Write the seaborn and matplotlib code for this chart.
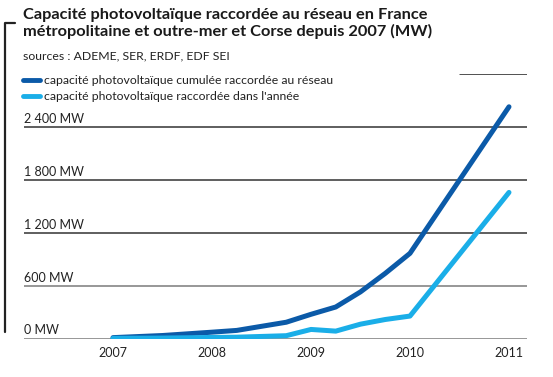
import pandas as pd
import matplotlib.pyplot as plt
import seaborn as sns
from matplotlib.lines import Line2D

# values (MW), quarterly-ish points
periods = [2007.0, 2007.5, 2008.0, 2008.25, 2008.75, 2009.0, 2009.25, 2009.5, 2009.75, 2010.0, 2011.0]
cumulee = [10, 34, 72, 92, 185, 275, 358, 530, 740, 968, 2633]
annee = [2, 5, 12, 15, 32, 103, 84, 163, 216, 255, 1660]

labels = ["capacité photovoltaïque cumulée raccordée au réseau",
          "capacité photovoltaïque raccordée dans l'année"]
years = [2007, 2008, 2009, 2010, 2011]
yticks = [0, 600, 1200, 1800, 2400]
ytick_labels = ["0 MW", "600 MW", "1 200 MW", "1 800 MW", "2 400 MW"]

df = pd.DataFrame({
    "periode": periods * 2,
    "MW": cumulee + annee,
    "serie": [labels[0]] * len(periods) + [labels[1]] * len(periods),
})

sns.set_style("white")
plt.rcParams["font.family"] = ["Lato", "DejaVu Sans"]

fig = plt.figure(figsize=(5.53, 3.77), dpi=100)
ax = fig.add_axes([24 / 553, 0.1021, 503 / 553, 0.7003])

# grid lines (the top one is half hidden by the legend in the original)
for v in yticks:
    ax.axhline(v, color="#7a7a7a" if v < 1200 else "#333333", lw=1.1, zorder=1)
ax.axhline(3000, xmin=0.867, xmax=1, color="#222222", lw=1.1, zorder=1)

pal = ["#0b5aa8", "#1aaee8"]
sns.lineplot(data=df, x="periode", y="MW", hue="serie", palette=pal,
             linewidth=3.6, ax=ax, legend=False, zorder=3)

ax.set_xlim(2006.101, 2011.182)
ax.set_ylim(0, 3000)
ax.set_xticks(years)
ax.set_xticklabels([str(y) for y in years], fontsize=9, color="#222222")
ax.tick_params(axis="x", length=0, pad=6)
ax.set_yticks([])
ax.set_xlabel("")
ax.set_ylabel("")
sns.despine(ax=ax, left=True, bottom=True, top=True, right=True)

for v, t in zip(yticks, ytick_labels):
    ax.text(0.0, v + 25, t, transform=ax.get_yaxis_transform(), ha="left",
            va="bottom", fontsize=9, color="#222222")

# legend
handles = [Line2D([], [], color=c, lw=3.5) for c in pal]
fig.legend(handles, labels, loc="upper left", bbox_to_anchor=(23 / 553, 1 - 75 / 377),
           frameon=False, fontsize=8.8, handlelength=1.4, handletextpad=0.3,
           labelspacing=0.4, borderaxespad=0, borderpad=0, labelcolor="#222222")

# titles
fig.text(23 / 553, 1 - 8 / 377, "Capacité photovoltaïque raccordée au réseau en France\n"
         "métropolitaine et outre-mer et Corse depuis 2007 (MW)",
         ha="left", va="top", fontsize=11.8, fontweight="bold", color="#1a1a1a",
         linespacing=1.15)
fig.text(23 / 553, 1 - 50 / 377, "sources : ADEME, SER, ERDF, EDF SEI",
         ha="left", va="top", fontsize=8.8, color="#222222")

# left bracket
fig.add_artist(Line2D([5 / 553, 5 / 553, 15 / 553], [1 - 332 / 377, 1 - 23 / 377, 1 - 23 / 377],
                      color="#222222", lw=1.6, transform=fig.transFigure))

fig.savefig("out.png", dpi=100)
